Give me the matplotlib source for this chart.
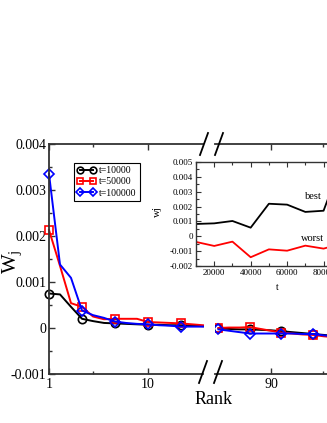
import matplotlib
matplotlib.use("Agg")
import matplotlib.pyplot as plt
from matplotlib.lines import Line2D
from matplotlib.ticker import FixedLocator
import numpy as np

plt.rcParams['font.family'] = ['Liberation Serif', 'DejaVu Serif']
plt.rcParams['mathtext.fontset'] = 'custom'
plt.rcParams['mathtext.rm'] = 'Liberation Serif'
plt.rcParams['mathtext.it'] = 'Liberation Serif:italic'

# ---- data: main plot, left segment (ranks 1..15)
rank_left = [1, 2, 3, 4, 5, 6, 7, 8, 9, 10, 11, 12, 13, 14, 15]
w_t10000_left = [0.00075, 0.00073, 0.00046, 0.00020, 0.00015, 0.00011, 0.00010, 0.00009,
                 0.00008, 0.00007, 0.00007, 0.00006, 0.00006, 0.00005, 0.00004]
w_t50000_left = [0.00213, 0.00135, 0.00054, 0.00046, 0.00025, 0.00019, 0.00020, 0.00020,
                 0.00020, 0.00013, 0.00012, 0.00011, 0.00010, 0.00008, 0.00006]
w_t100000_left = [0.00335, 0.00138, 0.00109, 0.00038, 0.00028, 0.00022, 0.00014, 0.00011,
                  0.00009, 0.00008, 0.00006, 0.00005, 0.00003, 0.00003, 0.00003]

# ---- data: main plot, right segment (ranks 85..100)
rank_right = [85, 86, 87, 88, 89, 90, 91, 92, 93, 94, 95, 96, 97, 98, 99, 100]
w_t10000_right = [-0.00001, -0.00002, -0.00003, -0.00003, -0.00004, -0.00005, -0.00007, -0.00009,
                  -0.00011, -0.00013, -0.00015, -0.00017, -0.00019, -0.00021, -0.00023, -0.00025]
w_t50000_right = [0.00000, 0.00001, 0.00001, 0.00002, -0.00002, -0.00006, -0.00010, -0.00012,
                  -0.00014, -0.00015, -0.00018, -0.00020, -0.00022, -0.00024, -0.00026, -0.00028]
w_t100000_right = [-0.00003, -0.00006, -0.00009, -0.00012, -0.00012, -0.00012, -0.00012, -0.00012,
                   -0.00013, -0.00013, -0.00016, -0.00018, -0.00020, -0.00022, -0.00024, -0.00026]

series_labels = ['t=10000', 't=50000', 't=100000']
series_colors = ['black', 'red', 'blue']
series_markers = ['o', 's', 'D']

# ---- data: inset
t_inset = [10000, 20000, 30000, 40000, 50000, 60000, 70000, 80000, 90000, 100000]
w_best = [0.00083, 0.00087, 0.00103, 0.00058, 0.00219, 0.00213, 0.00164, 0.00172, 0.0050, 0.0040]
w_worst = [-0.00038, -0.00065, -0.00036, -0.00141, -0.00088, -0.00097, -0.00063, -0.00083, -0.0005, -0.0006]

main_yticks = [-0.001, 0, 0.001, 0.002, 0.003, 0.004]
main_ytick_labels = ['-0.001', '0', '0.001', '0.002', '0.003', '0.004']
inset_yticks = [-0.002, -0.001, 0, 0.001, 0.002, 0.003, 0.004, 0.005]
inset_ytick_labels = ['-0.002', '-0.001', '0', '0.001', '0.002', '0.003', '0.004', '0.005']
inset_xticks = [20000, 40000, 60000, 80000]
inset_xtick_labels = ['20000', '40000', '60000', '80000']

W, H = 327, 423
fig = plt.figure(figsize=(W / 100, H / 100), dpi=100)
fig.patch.set_facecolor('white')


def box(l, t, r, b):
    return [l / W, 1 - b / H, (r - l) / W, (b - t) / H]


ax1 = fig.add_axes(box(49, 144, 203, 374))
ax2 = fig.add_axes(box(215, 144, 372, 374))

spine_lw = 1.3
for ax in (ax1, ax2):
    ax.set_ylim(-0.001, 0.004)
    ax.spines['right'].set_visible(False)
    for s in ('top', 'bottom', 'left'):
        ax.spines[s].set_linewidth(spine_lw)
        ax.spines[s].set_color('#333333')
    ax.tick_params(which='both', direction='in', top=True, bottom=True, right=False,
                   width=1.0, color='#333333', labelsize=10)
    ax.tick_params(which='major', length=4)
    ax.tick_params(which='minor', length=2.5)
    ax.set_facecolor('none')

ax2.spines['left'].set_visible(False)
ax2.tick_params(axis='y', which='both', left=False, labelleft=False)

ax1.set_xlim(1, 15)
ax1.set_xticks([1, 10])
ax1.set_xticklabels(['1', '10'])
ax1.xaxis.set_minor_locator(FixedLocator([5]))
ax1.set_yticks(main_yticks)
ax1.set_yticklabels(main_ytick_labels)
ax1.yaxis.set_minor_locator(FixedLocator(np.arange(-0.0005, 0.004, 0.001)))
ax1.tick_params(axis='y', pad=2)
ax1.tick_params(axis='x', pad=3)

ax2.set_xlim(84.67, 99.62)
ax2.set_xticks([90])
ax2.set_xticklabels(['90'])
ax2.xaxis.set_minor_locator(FixedLocator([95]))
ax2.tick_params(axis='x', pad=3)

left_data = [w_t10000_left, w_t50000_left, w_t100000_left]
right_data = [w_t10000_right, w_t50000_right, w_t100000_right]
handles = []
for lab, col, mk, yl, yr in zip(series_labels, series_colors, series_markers, left_data, right_data):
    ms = 6.0 if mk != 'D' else 5.0
    h, = ax1.plot(rank_left, yl, color=col, lw=1.4, marker=mk, ms=ms, mfc='none', mec=col,
                  mew=1.2, markevery=3, label=lab, clip_on=False)
    ax2.plot(rank_right, yr, color=col, lw=1.4, marker=mk, ms=ms, mfc='none', mec=col,
             mew=1.2, markevery=3, clip_on=True)
    handles.append(h)

ax1.set_ylabel(r'$\mathregular{W_j}$', fontsize=15)
ax1.yaxis.set_label_coords(-0.165, 0.49)
fig.text(214 / W, 1 - 399 / H, 'Rank', fontsize=13, ha='center', va='center')

leg = ax1.legend(handles=handles, loc='upper left', bbox_to_anchor=(74 / W, 1 - 163 / H),
                 bbox_transform=fig.transFigure, borderaxespad=0, fancybox=False,
                 edgecolor='black', framealpha=1, fontsize=7, numpoints=2,
                 handlelength=2.0, handletextpad=0.3, borderpad=0.3, labelspacing=0.25,
                 markerscale=0.8)
leg.get_frame().set_linewidth(0.8)

# break marks
for (x1, y1, x2, y2) in [(199, 383, 207, 361), (214, 383, 222, 361),
                         (200, 155, 208, 133), (215, 155, 223, 133)]:
    fig.add_artist(Line2D([x1 / W, x2 / W], [1 - y1 / H, 1 - y2 / H],
                          transform=fig.transFigure, color='black', lw=1.3))

# inset
axi = fig.add_axes(box(196, 162, 360, 266))
axi.set_facecolor('white')
axi.plot(t_inset, w_best, color='black', lw=1.3)
axi.plot(t_inset, w_worst, color='red', lw=1.3)
axi.set_xlim(10000, 100000)
axi.set_ylim(-0.002, 0.005)
axi.set_xticks(inset_xticks)
axi.set_xticklabels(inset_xtick_labels)
axi.xaxis.set_minor_locator(FixedLocator(np.arange(10000, 100001, 10000)))
axi.set_yticks(inset_yticks)
axi.set_yticklabels(inset_ytick_labels)
axi.yaxis.set_minor_locator(FixedLocator(np.arange(-0.0015, 0.005, 0.001)))
axi.tick_params(which='both', direction='in', top=True, right=True, labelsize=6.5,
                width=0.8, color='#333333')
axi.tick_params(which='major', length=3.5)
axi.tick_params(which='minor', length=2)
axi.tick_params(axis='y', pad=2)
axi.tick_params(axis='x', pad=2)
for s in axi.spines.values():
    s.set_linewidth(1.0)
    s.set_color('#333333')
axi.set_ylabel('wj', fontsize=8)
axi.yaxis.set_label_coords(-0.205, 0.52)
axi.set_xlabel('t', fontsize=7)
axi.xaxis.set_label_coords(0.494, -0.163)
axi.text(305 / W, 1 - 196 / H, 'best', fontsize=7.5, transform=fig.transFigure,
         ha='left', va='center')
axi.text(301 / W, 1 - 238 / H, 'worst', fontsize=7.5, transform=fig.transFigure,
         ha='left', va='center')

fig.savefig('out.png', dpi=100)
